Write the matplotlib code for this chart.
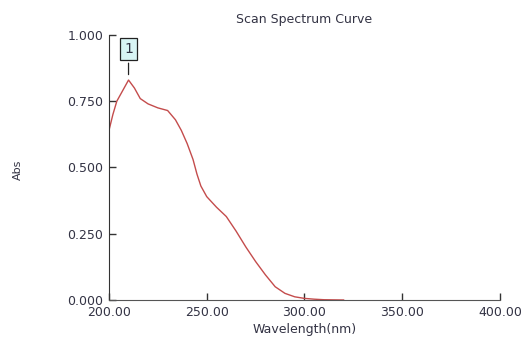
import matplotlib.pyplot as plt
import numpy as np

# 扫描光谱数据
wavelength = [200, 202, 204, 207, 210, 213, 216, 220, 225, 230, 234, 237, 240, 243,
              245, 247, 250, 255, 260, 265, 270, 275, 280, 285, 290, 295, 300, 305,
              310, 320]
absorb = [0.64, 0.70, 0.75, 0.79, 0.83, 0.80, 0.76, 0.74, 0.725, 0.715, 0.68, 0.64,
          0.59, 0.53, 0.475, 0.43, 0.39, 0.35, 0.315, 0.26, 0.20, 0.145, 0.095, 0.05,
          0.025, 0.012, 0.006, 0.003, 0.001, 0.0]
peak_labels = ['1']

xticks = [200, 250, 300, 350, 400]
yticks = [0.0, 0.25, 0.5, 0.75, 1.0]

text_color = '#333344'

fig = plt.figure(figsize=(5.28, 3.5), dpi=100)
ax = fig.add_axes([0.2064, 0.1429, 0.7406, 0.7571])

ax.plot(wavelength, absorb, color='#c44c4c', linewidth=1.0)

# 峰值标注
i = int(np.argmax(absorb))
ax.annotate(peak_labels[0], xy=(wavelength[i], absorb[i] + 0.01),
            xytext=(wavelength[i], 0.948), ha='center', va='center',
            fontsize=10, color=text_color,
            bbox=dict(boxstyle='square,pad=0.3', fc='#d8f4f4', ec='#222222', lw=0.9),
            arrowprops=dict(arrowstyle='-', color='#222222', lw=0.9))

ax.set_xlim(200, 400)
ax.set_ylim(0, 1.0)
ax.set_xticks(xticks)
ax.set_xticklabels([f'{v:.2f}' for v in xticks])
ax.set_yticks(yticks)
ax.set_yticklabels([f'{v:.3f}' for v in yticks])
ax.tick_params(direction='in', length=5, width=1, colors='#333333',
               labelcolor=text_color, labelsize=9, pad=4)

ax.spines['top'].set_visible(False)
ax.spines['right'].set_visible(False)
ax.spines['left'].set_color('#333333')
ax.spines['bottom'].set_color('#555555')

ax.set_title('Scan Spectrum Curve', fontsize=9, color=text_color, pad=9)
ax.set_xlabel('Wavelength(nm)', fontsize=9, color=text_color, labelpad=3)
fig.text(0.034, 0.515, 'Abs', rotation=90, fontsize=8, color=text_color,
         ha='center', va='center')

plt.savefig('out.png', dpi=100)
